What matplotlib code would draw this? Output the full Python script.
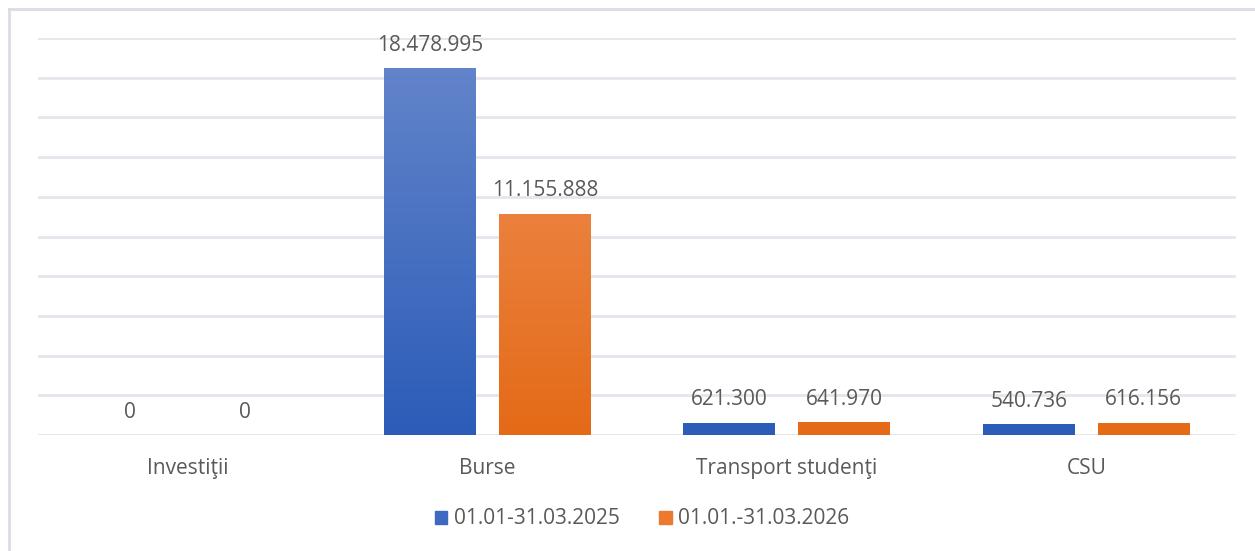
import numpy as np
import matplotlib
matplotlib.use("Agg")
import matplotlib.pyplot as plt
from matplotlib.colors import LinearSegmentedColormap
from matplotlib.lines import Line2D

categories = ["Investiţii", "Burse", "Transport studenţi", "CSU"]
series_names = ["01.01-31.03.2025", "01.01.-31.03.2026"]
values_2025 = [0, 18478995, 621300, 540736]
values_2026 = [0, 11155888, 641970, 616156]
labels_2025 = ["0", "18.478.995", "621.300", "540.736"]
labels_2026 = ["0", "11.155.888", "641.970", "616.156"]

W, H = 1255, 551
TEXT = "#595959"
GRID = "#E3E6EC"
FS = 15

plt.rcParams["font.family"] = ["Open Sans", "DejaVu Sans"]

fig = plt.figure(figsize=(W / 100, H / 100), dpi=100)
ax = fig.add_axes([38 / W, 1 - 435 / H, (1236 - 38) / W, (435 - 38) / H])

x = np.arange(len(categories))
bw = 0.307
off = 0.192

grad_blue = LinearSegmentedColormap.from_list("b", ["#2B5CB8", "#6787CB"])
grad_orange = LinearSegmentedColormap.from_list("o", ["#E46A17", "#F0935C"])


def gradient_bars(xs, vals, cmap, solid):
    bars = ax.bar(xs, vals, bw, color=solid, edgecolor="none", zorder=2)
    for b in bars:
        h = b.get_height()
        if h <= 0:
            continue
        grad = np.linspace(0, 1, 256).reshape(-1, 1)
        im = ax.imshow(grad, cmap=cmap, aspect="auto", origin="lower",
                       extent=[b.get_x(), b.get_x() + b.get_width(), 0, 20000000],
                       zorder=3)
        im.set_clip_path(b)
    return bars


bars1 = gradient_bars(x - off, values_2025, grad_blue, "#4472C4")
bars2 = gradient_bars(x + off, values_2026, grad_orange, "#ED7D31")

for bars, labs in [(bars1, labels_2025), (bars2, labels_2026)]:
    for b, lab in zip(bars, labs):
        ax.annotate(lab, (b.get_x() + b.get_width() / 2, b.get_height()),
                    xytext=(0, 12.5), textcoords="offset points",
                    ha="center", va="baseline", fontsize=FS, color=TEXT, zorder=4)

ax.set_xlim(-0.5, len(categories) - 0.5)
ax.set_ylim(0, 20000000)
ax.set_yticks(np.arange(0, 20000001, 2000000))
ax.yaxis.grid(True, color=GRID, linewidth=2)
ax.set_axisbelow(True)
ax.set_yticklabels([])
ax.tick_params(axis="y", length=0)
ax.set_xticks(x)
ax.set_xticklabels(categories, fontsize=FS, color=TEXT)
ax.tick_params(axis="x", length=0, pad=16.5)
for s in ax.spines.values():
    s.set_visible(False)

# legend
h1 = plt.Rectangle((0, 0), 1, 1, color="#3D69C2")
h2 = plt.Rectangle((0, 0), 1, 1, color="#EC7A2E")
fig.legend([h1, h2], series_names, loc="center", bbox_to_anchor=(642 / W, 1 - 519 / H),
           ncol=2, frameon=False, fontsize=FS, labelcolor=TEXT,
           handlelength=0.6, handleheight=0.6, handletextpad=0.3, columnspacing=1.9)

# chart border (top and left visible)
fig.add_artist(Line2D([9 / W, 1], [1 - 9 / H, 1 - 9 / H], color="#D9DDE4", linewidth=2))
fig.add_artist(Line2D([9 / W, 9 / W], [0, 1 - 9 / H], color="#D9DDE4", linewidth=2))

fig.savefig("out.png", dpi=100)
